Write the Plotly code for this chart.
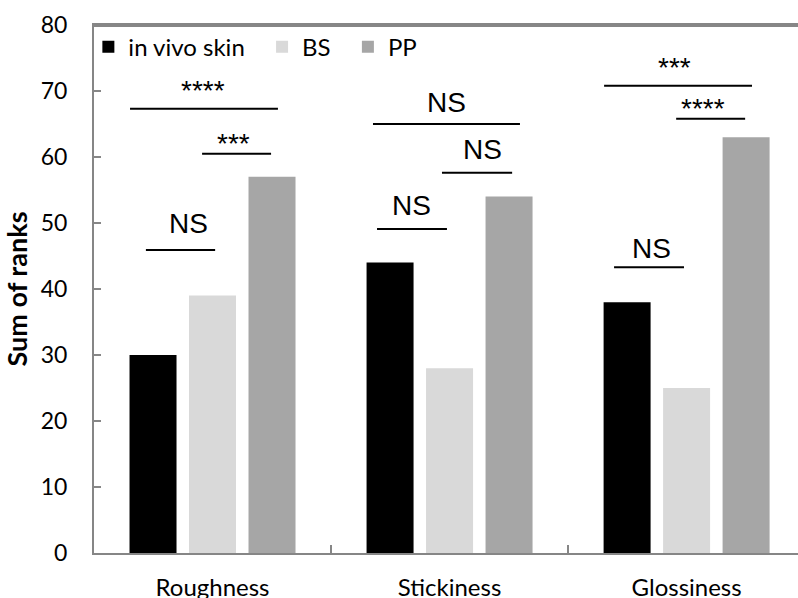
import plotly.graph_objects as go

categories = ["Roughness", "Stickiness", "Glossiness"]
in_vivo_skin = [30, 44, 38]
bs = [39, 28, 25]
pp = [57, 54, 63]
series_names = ["in vivo skin\u00a0\u00a0", "BS\u00a0\u00a0", "PP"]
series_colors = ["#000000", "#d9d9d9", "#a6a6a6"]
y_ticks = [0, 10, 20, 30, 40, 50, 60, 70, 80]

# significance brackets: (x0, x1, y_line, label, x_text, y_text)
brackets = [
    (-0.348, 0.276, 67.3, "****", -0.04, 70.1),
    (-0.044, 0.247, 60.5, "***", 0.087, 62.1),
    (-0.281, 0.011, 45.9, "NS", -0.1, 50.0),
    (0.677, 1.297, 65.0, "NS", 0.985, 68.2),
    (0.968, 1.264, 57.6, "NS", 1.141, 61.1),
    (0.694, 0.989, 49.1, "NS", 0.841, 52.7),
    (1.652, 2.276, 70.8, "***", 1.947, 73.5),
    (1.956, 2.247, 65.8, "****", 2.069, 67.4),
    (1.694, 1.989, 43.3, "NS", 1.85, 46.2),
]

axis_col = "#868686"

fig = go.Figure()
for name, vals, col in zip(series_names, [in_vivo_skin, bs, pp], series_colors):
    fig.add_trace(go.Bar(x=categories, y=vals, name=name,
                         marker=dict(color=col, line=dict(width=0))))

# top frame of the plot area, drawn as a line on an overlaid top x axis
fig.add_trace(go.Scatter(x=[0, 1], y=[79.9, 79.9], xaxis="x2", mode="lines",
                         line=dict(color=axis_col, width=2.5), showlegend=False,
                         hoverinfo="skip", cliponaxis=False))

for x0, x1, yl, lab, xt, yt in brackets:
    fig.add_shape(type="line", xref="x", yref="y", x0=x0, x1=x1, y0=yl, y1=yl,
                  line=dict(color="black", width=2))
    fig.add_annotation(x=xt, y=yt, xref="x", yref="y", text=lab, showarrow=False,
                       font=dict(family="Liberation Sans, Arial", size=28, color="black"),
                       yanchor="middle", xanchor="center")

fig.update_layout(
    width=798, height=598,
    margin=dict(l=94, r=0, t=25, b=45, autoexpand=False),
    plot_bgcolor="white", paper_bgcolor="white",
    barmode="group", bargap=0.247, bargroupgap=0.21,
    font=dict(family="Lato, Carlito, sans-serif", color="black", size=21),
    showlegend=True,
    legend=dict(orientation="h", x=-0.008, y=0.958, xanchor="left", yanchor="middle",
                font=dict(family="Lato, Carlito, sans-serif", size=24),
                bgcolor="rgba(255,255,255,0)", borderwidth=0, traceorder="normal"),
    xaxis=dict(range=[-0.5, 2.47], showline=True, linecolor=axis_col, linewidth=2,
               ticks="inside", tickson="boundaries", ticklen=8,
               tickcolor=axis_col, tickwidth=1.5, showgrid=False, zeroline=False,
               ticklabelstandoff=12,
               tickfont=dict(family="Lato, Carlito, sans-serif", size=24)),
    xaxis2=dict(overlaying="x", side="top", range=[0, 1], showline=True,
                linecolor=axis_col, linewidth=2, showticklabels=False, ticks="",
                showgrid=False, zeroline=False),
    yaxis=dict(range=[0, 80], tickvals=y_ticks, showline=True, linecolor=axis_col,
               linewidth=2, ticks="inside", ticklen=7, tickcolor=axis_col, tickwidth=1.5,
               showgrid=False, zeroline=False, ticklabelstandoff=20,
               tickfont=dict(family="Lato, Carlito, sans-serif", size=23),
               title=dict(text="<b>Sum of ranks</b>",
                          font=dict(family="Lato, Carlito, sans-serif", size=27),
                          standoff=7)),
)

fig.write_html("out.html", config={"displayModeBar": False},
               post_script="document.body.style.margin='0';document.body.style.overflow='hidden';")
